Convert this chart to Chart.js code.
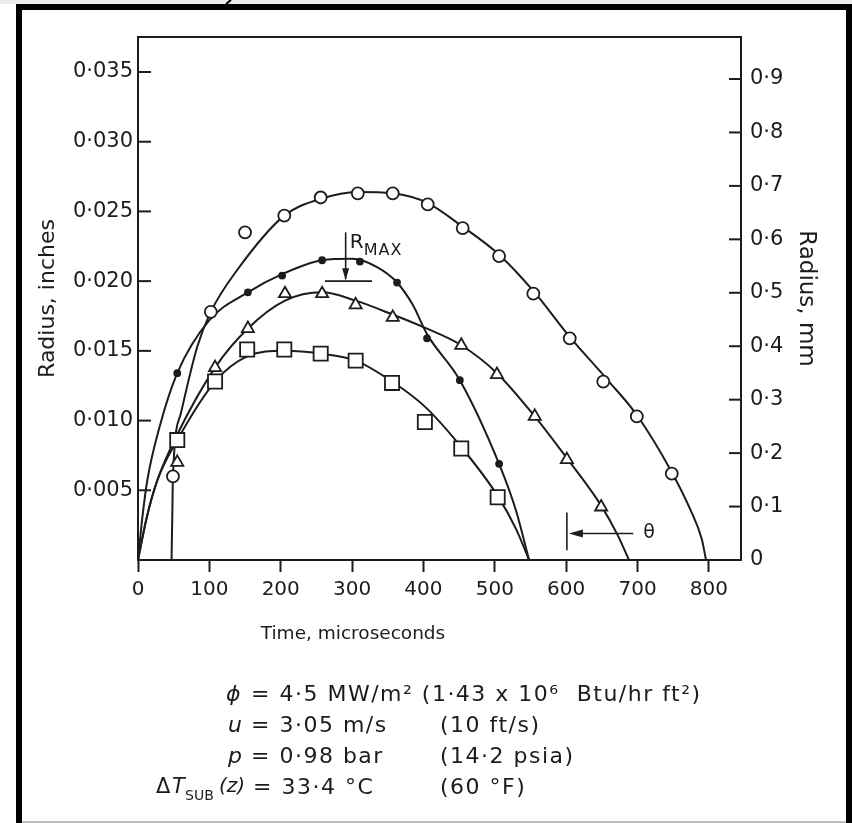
<!DOCTYPE html>
<html><head><meta charset="utf-8">
<script src="https://cdn.jsdelivr.net/npm/chart.js@4.4.1/dist/chart.umd.min.js"></script>
<style>html,body{margin:0;padding:0;background:#fff;overflow:hidden}#wrap{width:852px;height:823px}</style>
</head><body><div id="wrap"><canvas id="c" width="852" height="823"></canvas></div>
<script>
// ---- data (time in microseconds, radius in inches) ----
const circleT = [49, 102, 150, 205, 256, 308, 357, 406, 455, 506, 554, 605, 652, 699, 748];
const circleR = [0.0060, 0.0178, 0.0235, 0.0247, 0.0260, 0.0263, 0.0263, 0.0255, 0.0238, 0.0218, 0.0191, 0.0159, 0.0128, 0.0103, 0.0062];
const dotT = [55, 154, 202, 258, 311, 363, 405, 451, 506];
const dotR = [0.0134, 0.0192, 0.0204, 0.0215, 0.0214, 0.0199, 0.0159, 0.0129, 0.0069];
const triT = [55, 108, 154, 206, 258, 305, 357, 453, 503, 556, 601, 649];
const triR = [0.0070, 0.0138, 0.0166, 0.0191, 0.0191, 0.0183, 0.0174, 0.0154, 0.0133, 0.0103, 0.0072, 0.0038];
const sqT = [55, 108, 153, 205, 256, 305, 356, 402, 453, 504];
const sqR = [0.0086, 0.0128, 0.0151, 0.0151, 0.0148, 0.0143, 0.0127, 0.0099, 0.0080, 0.0045];

// fitted curves as drawn in the figure
const circleCurveT = [47, 48, 49, 60, 83, 102, 139, 205, 256, 308, 357, 406, 455, 506, 554, 605, 660, 699, 748, 775, 790, 796];
const circleCurveR = [0, 0.0030, 0.0060, 0.0105, 0.0153, 0.0178, 0.0208, 0.0247, 0.0259, 0.0264, 0.0263, 0.0256, 0.0239, 0.0219, 0.0193, 0.0160, 0.0128, 0.0104, 0.0063, 0.0035, 0.0015, 0];
const dotCurveT = [0, 6, 13, 30, 55, 100, 154, 202, 258, 300, 335, 363, 385, 405, 451, 506, 530, 548];
const dotCurveR = [0, 0.0030, 0.0057, 0.0095, 0.0134, 0.0172, 0.0192, 0.0205, 0.0215, 0.0216, 0.0210, 0.0199, 0.0183, 0.0162, 0.0129, 0.0069, 0.0035, 0];
const triCurveT = [0, 12, 27, 55, 108, 154, 206, 258, 305, 357, 400, 453, 503, 556, 601, 649, 672, 688];
const triCurveR = [0, 0.0030, 0.0057, 0.0090, 0.0138, 0.0166, 0.0186, 0.0192, 0.0186, 0.0176, 0.0167, 0.0154, 0.0134, 0.0103, 0.0073, 0.0039, 0.0018, 0];
const sqCurveT = [0, 12, 27, 55, 108, 153, 205, 256, 305, 356, 402, 453, 504, 530, 548];
const sqCurveR = [0, 0.0030, 0.0057, 0.0086, 0.0128, 0.0146, 0.0150, 0.0148, 0.0143, 0.0128, 0.0110, 0.0081, 0.0046, 0.0022, 0];

// tick labels
const xTickLabels = ['0', '100', '200', '300', '400', '500', '600', '700', '800'];
const leftTickLabels = ['', '0·005', '0·010', '0·015', '0·020', '0·025', '0·030', '0·035'];
const rightTickLabels = ['0', '0·1', '0·2', '0·3', '0·4', '0·5', '0·6', '0·7', '0·8', '0·9'];

// annotation values (data units)
const rmaxT = [262, 291, 328];      // bar start, arrow x, bar end
const rmaxR = [0.0200, 0.0235];     // bar level, arrow top
const thetaT = [601, 694];          // bar x, arrow tail
const thetaR = [0.0034, 0.0007, 0.0019];

const FONT = '"DejaVu Sans", sans-serif';
const INK = '#1c1c1c';

const zip = (t, r) => t.map((v, i) => ({x: v, y: r[i]}));

function markerSet(t, r, style, radius, filled) {
  return {type: 'scatter', data: zip(t, r), showLine: false, order: 0,
    pointStyle: style, pointRadius: radius, pointHoverRadius: radius,
    pointBackgroundColor: filled ? INK : '#ffffff', pointBorderColor: INK, pointBorderWidth: 1.8};
}
function curveSet(t, r) {
  return {type: 'line', data: zip(t, r), showLine: true, order: 1, pointRadius: 0,
    borderColor: INK, borderWidth: 2, cubicInterpolationMode: 'monotone', fill: false};
}

const bgPlugin = {
  id: 'bg',
  beforeDraw(chart) {
    const c = chart.ctx;
    c.save(); c.fillStyle = '#ffffff'; c.fillRect(0, 0, chart.width, chart.height);
    c.fillStyle = '#ececec'; c.fillRect(0, 0, chart.width, 4);
    c.restore();
  }
};

function spaced(c, px) { if ('letterSpacing' in c) c.letterSpacing = px + 'px'; }

const overlayPlugin = {
  id: 'overlay',
  afterDraw(chart) {
    const c = chart.ctx;
    const {left, right, top} = chart.chartArea;
    const xs = chart.scales.x, yl = chart.scales.y, yr = chart.scales.y2;
    c.save();
    // plot top frame line
    c.strokeStyle = INK; c.lineWidth = 2;
    c.beginPath(); c.moveTo(left, top); c.lineTo(right, top); c.stroke();
    // inward y ticks
    yl.ticks.forEach(t => { if (t.value === 0) return; const y = yl.getPixelForValue(t.value);
      c.beginPath(); c.moveTo(left, y); c.lineTo(left + 13, y); c.stroke(); });
    yr.ticks.forEach(t => { if (t.value === 0) return; const y = yr.getPixelForValue(t.value);
      c.beginPath(); c.moveTo(right, y); c.lineTo(right - 12, y); c.stroke(); });

    // R_MAX annotation
    const bx0 = xs.getPixelForValue(rmaxT[0]), bx1 = xs.getPixelForValue(rmaxT[2]);
    const ax = xs.getPixelForValue(rmaxT[1]);
    const by = yl.getPixelForValue(rmaxR[0]), ay = yl.getPixelForValue(rmaxR[1]);
    c.lineWidth = 1.6;
    c.beginPath(); c.moveTo(bx0, by); c.lineTo(bx1, by); c.stroke();
    c.beginPath(); c.moveTo(ax, ay); c.lineTo(ax, by - 2); c.stroke();
    c.fillStyle = INK;
    c.beginPath(); c.moveTo(ax, by - 1); c.lineTo(ax - 3.5, by - 13); c.lineTo(ax + 3.5, by - 13); c.closePath(); c.fill();
    c.font = '20px ' + FONT; c.textBaseline = 'alphabetic'; c.textAlign = 'left';
    c.fillText('R', ax + 4, ay + 16);
    c.font = '16px ' + FONT; spaced(c, 1);
    c.fillText('MAX', ax + 18, ay + 23);
    spaced(c, 0);

    // theta annotation
    const tx = xs.getPixelForValue(thetaT[0]), tt = xs.getPixelForValue(thetaT[1]);
    const ty0 = yl.getPixelForValue(thetaR[0]), ty1 = yl.getPixelForValue(thetaR[1]), tym = yl.getPixelForValue(thetaR[2]);
    c.lineWidth = 1.6;
    c.beginPath(); c.moveTo(tx, ty0); c.lineTo(tx, ty1); c.stroke();
    c.beginPath(); c.moveTo(tt, tym); c.lineTo(tx + 10, tym); c.stroke();
    c.beginPath(); c.moveTo(tx + 2, tym); c.lineTo(tx + 16, tym - 4); c.lineTo(tx + 16, tym + 4); c.closePath(); c.fill();
    c.font = '19px ' + FONT; c.textBaseline = 'middle';
    c.fillText('θ', tt + 10, tym);

    // x axis title
    c.font = '18.5px ' + FONT; c.textAlign = 'center'; c.textBaseline = 'middle';
    c.fillText('Time, microseconds', 353, 634);

    // conditions block
    const F = '22px ' + FONT, FI = 'italic 22px ' + FONT;
    c.textAlign = 'left'; c.textBaseline = 'middle';
    const rows = [695, 726, 757, 788];
    spaced(c, 1.5);
    c.font = FI; c.fillText('ϕ', 226, rows[0]);
    c.font = F; c.fillText('= 4·5 MW/m² (1·43 x 10⁶  Btu/hr ft²)', 251, rows[0]);
    c.font = FI; c.fillText('u', 228, rows[1]);
    c.font = F; c.fillText('= 3·05 m/s', 251, rows[1]); c.fillText('(10 ft/s)', 440, rows[1]);
    c.font = FI; c.fillText('p', 228, rows[2]);
    c.font = F; c.fillText('= 0·98 bar', 251, rows[2]); c.fillText('(14·2 psia)', 440, rows[2]);
    c.font = F; c.fillText('= 33·4 °C', 253, rows[3]); c.fillText('(60 °F)', 440, rows[3]);
    spaced(c, 0);
    c.font = '21px ' + FONT; c.fillText('Δ', 156, rows[3]);
    c.font = 'italic 21px ' + FONT; c.fillText('T', 172, rows[3]);
    c.font = '14px ' + FONT; c.fillText('SUB', 185, rows[3] + 8);
    c.font = 'italic 20px ' + FONT; c.fillText('(z)', 219, rows[3] - 1);

    // outer frame
    c.fillStyle = '#000';
    c.fillRect(16, 4, 6, 819);
    c.fillRect(16, 4, 836, 6);
    c.fillRect(846, 4, 6, 819);
    c.fillStyle = '#bdbdbd'; c.fillRect(22, 821, 824, 2);
    c.strokeStyle = '#000'; c.lineWidth = 2;
    c.beginPath(); c.moveTo(226, 4); c.lineTo(231, 0); c.stroke();
    c.restore();
  }
};

new Chart(document.getElementById('c').getContext('2d'), {
  type: 'scatter',
  data: {
    datasets: [
      markerSet(circleT, circleR, 'circle', 6, false),
      markerSet(dotT, dotR, 'circle', 3, true),
      markerSet(triT, triR, 'triangle', 7, false),
      markerSet(sqT, sqR, 'rect', 10, false),
      curveSet(circleCurveT, circleCurveR),
      curveSet(dotCurveT, dotCurveR),
      curveSet(triCurveT, triCurveR),
      curveSet(sqCurveT, sqCurveR)
    ]
  },
  options: {
    responsive: false, animation: false, devicePixelRatio: 1,
    layout: {padding: {top: 37, left: 0, right: 0, bottom: 0}},
    plugins: {legend: {display: false}, tooltip: {enabled: false}},
    scales: {
      x: {
        type: 'linear', position: 'bottom', min: 0, max: 845,
        afterFit(s) { s.height = 263; },
        ticks: {stepSize: 100, includeBounds: false, autoSkip: false, maxRotation: 0, padding: 6,
          color: INK, font: {family: FONT, size: 20},
          callback: v => xTickLabels[Math.round(v / 100)]},
        grid: {display: true, drawOnChartArea: false, drawTicks: true, tickLength: 12, tickWidth: 2, tickColor: INK},
        border: {display: true, color: INK, width: 2}
      },
      y: {
        type: 'linear', position: 'left', min: 0, max: 0.03751,
        afterFit(s) { s.width = 138; },
        ticks: {stepSize: 0.005, includeBounds: false, autoSkip: false, padding: 5,
          color: INK, font: {family: FONT, size: 21},
          callback: v => leftTickLabels[Math.round(v / 0.005)]},
        grid: {display: false, drawTicks: false},
        border: {display: true, color: INK, width: 2},
        title: {display: true, text: 'Radius, inches', color: INK, font: {family: FONT, size: 22},
          padding: {top: 35, bottom: 0}}
      },
      y2: {
        type: 'linear', position: 'right', min: 0, max: 0.9786,
        afterFit(s) { s.width = 111; },
        ticks: {stepSize: 0.1, includeBounds: false, autoSkip: false, padding: 9,
          color: INK, font: {family: FONT, size: 21},
          callback: v => rightTickLabels[Math.round(v / 0.1)]},
        grid: {display: false, drawTicks: false},
        border: {display: true, color: INK, width: 2},
        title: {display: true, text: 'Radius, mm', color: INK, font: {family: FONT, size: 23},
          padding: {top: 32, bottom: 0}}
      }
    }
  },
  plugins: [bgPlugin, overlayPlugin]
});
</script>
</body></html>
